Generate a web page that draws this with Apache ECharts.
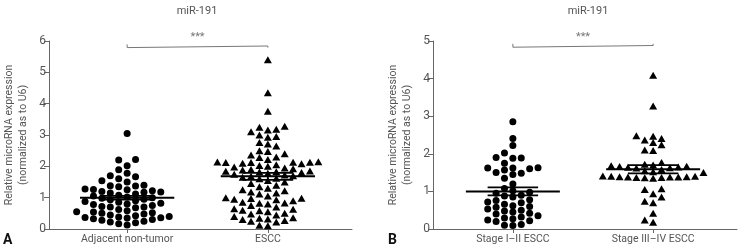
<!DOCTYPE html>
<html>
<head>
<meta charset="utf-8">
<script src="https://cdn.jsdelivr.net/npm/echarts@6/dist/echarts.min.js"></script>
<style>
  html, body { margin: 0; padding: 0; background: #fff; }
  #chart { width: 740px; height: 250px; }
</style>
</head>
<body>
<div id="chart"></div>
<script>
// panel A
const categoriesA = ['Adjacent non-tumor', 'ESCC'];
const adjacentValues = [
  3.05, 2.22, 2.20, 2.02, 1.89, 1.78, 1.70, 1.67, 1.60, 1.54, 1.50, 1.40, 1.38, 1.37, 1.35,
  1.28, 1.26, 1.25, 1.22, 1.20, 1.18, 1.17, 1.15, 1.12, 1.08, 1.05, 1.02, 1.00,
  0.98, 0.95, 0.93, 0.90, 0.88, 0.85, 0.82, 0.80, 0.78, 0.75, 0.72, 0.70,
  0.70, 0.68, 0.62, 0.58, 0.55, 0.54, 0.52, 0.50, 0.48, 0.45, 0.42, 0.40, 0.38, 0.37, 0.36,
  0.35, 0.33, 0.30, 0.28, 0.25, 0.22, 0.20, 0.17, 0.13
];
const esccValues = [
  5.40, 4.35, 3.76, 3.28, 3.25, 3.18, 3.16, 3.10, 3.00, 2.95, 2.93, 2.76, 2.71, 2.65, 2.50,
  2.47, 2.40, 2.36, 2.30, 2.28, 2.22, 2.15, 2.14, 2.13, 2.13, 2.12, 2.12, 2.10, 2.08, 2.05,
  2.03, 2.00, 1.98, 1.95, 1.92, 1.90, 1.88, 1.85, 1.84, 1.83, 1.82, 1.80, 1.78, 1.75, 1.72,
  1.70, 1.68, 1.65, 1.62, 1.60, 1.55, 1.50, 1.45, 1.40, 1.35, 1.30, 1.25, 1.22, 1.18, 1.15,
  1.12, 1.05, 1.00, 0.98, 0.97, 0.95, 0.93, 0.90, 0.85, 0.83, 0.82, 0.80, 0.75, 0.70, 0.65,
  0.63, 0.60, 0.58, 0.55, 0.50, 0.48, 0.45, 0.40, 0.36, 0.34, 0.32, 0.30, 0.27, 0.25, 0.22,
  0.12, 0.10
];
const meansA = [1.00, 1.68];
const semA = [0.06, 0.11];

// panel B
const categoriesB = ['Stage I\u2013II ESCC', 'Stage III\u2013IV ESCC'];
const stage12Values = [
  2.85, 2.41, 2.22, 2.02, 1.90, 1.89, 1.88, 1.75, 1.63, 1.62, 1.62, 1.60, 1.57, 1.50, 1.48,
  1.45, 1.35, 1.20, 1.08, 1.02, 0.98, 0.95, 0.90, 0.88, 0.85, 0.78, 0.76, 0.72, 0.70, 0.66,
  0.62, 0.60, 0.58, 0.53, 0.50, 0.48, 0.45, 0.42, 0.40, 0.35, 0.32, 0.29, 0.27, 0.24, 0.22,
  0.20, 0.12, 0.10, 0.09
];
const stage34Values = [
  4.09, 3.27, 2.48, 2.47, 2.41, 2.37, 2.30, 2.24, 2.10, 2.09, 1.77, 1.72, 1.70, 1.68, 1.67,
  1.66, 1.65, 1.64, 1.63, 1.62, 1.58, 1.55, 1.52, 1.50, 1.41, 1.40, 1.40, 1.39, 1.39, 1.38,
  1.38, 1.38, 1.37, 1.37, 1.36, 1.35, 1.07, 1.05, 0.94, 0.85, 0.74, 0.70, 0.42, 0.24, 0.18
];
const meansB = [1.00, 1.59];
const semB = [0.105, 0.11];

const yMax = [6, 5];
const bracketY = [5.84, 4.88];
const starText = '***';
const titleText = 'miR-191';
const yName = 'Relative microRNA expression\n(normalized as to U6)';

const FONT = 'Roboto, "Liberation Sans", sans-serif';
const GRAY = '#555';
const GRID_H = 188;
const DIAM = 6.3;     // px, collision distance in a column
const COL_PX = 8.4;   // px between swarm columns
const UNIT_PX = 140.5; // px between the two group centres

// Prism-like column scatter: place each point in the nearest free column
function swarm(values, center, pxPerUnit) {
  const colW = COL_PX / UNIT_PX;
  const cols = {};
  const out = [];
  values.slice().sort((a, b) => a - b).forEach(v => {
    const y = v * pxPerUnit;
    for (let k = 0; ; k++) {
      const c = k === 0 ? 0 : (k % 2 ? -Math.ceil(k / 2) : Math.ceil(k / 2));
      const list = cols[c] || (cols[c] = []);
      if (list.every(p => Math.abs(p - y) >= DIAM)) {
        list.push(y);
        out.push([center + c * colW, v]);
        break;
      }
    }
  });
  return out;
}

function seg(idx, data, w) {
  return {
    type: 'line', xAxisIndex: idx, yAxisIndex: idx, data: data,
    symbol: 'none', silent: true, z: 5,
    lineStyle: { color: '#000', width: w }
  };
}

function statSeries(idx, means, sems) {
  const out = [];
  means.forEach((m, i) => {
    const c = i + 1, s = sems[i];
    out.push(seg(idx, [[c - 0.335, m], [c + 0.335, m]], 2));
    out.push(seg(idx, [[c - 0.18, m + s], [c + 0.18, m + s]], 1.8));
    out.push(seg(idx, [[c - 0.18, m - s], [c + 0.18, m - s]], 1.8));
    out.push(seg(idx, [[c, m - s], [c, m + s]], 1.8));
  });
  return out;
}

function bracketSeries(idx, y, tick) {
  return [{
    type: 'line', xAxisIndex: idx, yAxisIndex: idx, symbol: 'none', silent: true,
    data: [[1, y + tick], [1, y - tick], [1, y], [2, y], [2, y + tick], [2, y - tick]],
    lineStyle: { color: '#777', width: 1 }
  }, {
    type: 'scatter', xAxisIndex: idx, yAxisIndex: idx, symbolSize: 0, silent: true,
    data: [[1.5, y]],
    label: { show: true, position: 'top', distance: 3, formatter: starText,
      color: GRAY, fontFamily: FONT, fontSize: 11 }
  }];
}

function dots(idx, values, center, symbol, size) {
  return {
    type: 'scatter', xAxisIndex: idx, yAxisIndex: idx, symbol: symbol, symbolSize: size,
    data: swarm(values, center, GRID_H / yMax[idx]),
    itemStyle: { color: '#000', opacity: 1 }, z: 3
  };
}

function xAxis(idx, cats, min, max) {
  return {
    type: 'value', gridIndex: idx, min: min, max: max,
    splitLine: { show: false },
    axisLine: { lineStyle: { color: '#666', width: 1 } },
    axisTick: { show: true, customValues: [1, 2], length: 4, lineStyle: { color: '#666' } },
    axisLabel: { customValues: [1, 2], formatter: v => cats[Math.round(v) - 1],
      color: GRAY, fontFamily: FONT, fontSize: 10.5, margin: 5 }
  };
}

function yAxis(idx) {
  return {
    type: 'value', gridIndex: idx, min: 0, max: yMax[idx], interval: 1,
    splitLine: { show: false },
    axisLine: { show: true, lineStyle: { color: '#666', width: 1 } },
    axisTick: { show: true, length: 5, lineStyle: { color: '#666' } },
    axisLabel: { color: GRAY, fontFamily: FONT, fontSize: 12, margin: 3 },
    name: yName, nameLocation: 'middle', nameGap: 19,
    nameTextStyle: { color: GRAY, fontFamily: FONT, fontSize: 10.5, lineHeight: 14 }
  };
}

const chart = echarts.init(document.getElementById('chart'), null, { renderer: 'canvas' });
chart.setOption({
  animation: false,
  backgroundColor: '#fff',
  grid: [
    { left: 49, top: 41, width: 303, height: GRID_H },
    { left: 433, top: 41, width: 304, height: GRID_H }
  ],
  xAxis: [
    xAxis(0, categoriesA, 1 - 78 / UNIT_PX, 2 + 84 / UNIT_PX),
    xAxis(1, categoriesB, 1 - 80 / UNIT_PX, 2 + 84 / UNIT_PX)
  ],
  yAxis: [yAxis(0), yAxis(1)],
  graphic: [
    { type: 'text', x: 197, y: 6, style: { text: titleText, fill: GRAY, font: '11px ' + FONT, textAlign: 'center' } },
    { type: 'text', x: 588, y: 6, style: { text: titleText, fill: GRAY, font: '11px ' + FONT, textAlign: 'center' } },
    { type: 'text', x: 3, y: 233, style: { text: 'A', fill: '#111', font: 'bold 14px ' + FONT } },
    { type: 'text', x: 388, y: 233, style: { text: 'B', fill: '#111', font: 'bold 14px ' + FONT } }
  ],
  series: [
    dots(0, adjacentValues, 1, 'circle', 7),
    dots(0, esccValues, 2, 'triangle', [8, 7]),
    dots(1, stage12Values, 1, 'circle', 7),
    dots(1, stage34Values, 2, 'triangle', [8, 7])
  ].concat(
    statSeries(0, meansA, semA),
    statSeries(1, meansB, semB),
    bracketSeries(0, bracketY[0], 0.05),
    bracketSeries(1, bracketY[1], 0.045)
  )
});
</script>
</body>
</html>
